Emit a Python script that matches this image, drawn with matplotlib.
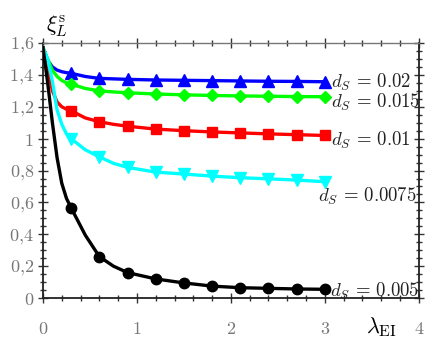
import numpy as np
import matplotlib
matplotlib.use("Agg")
import matplotlib.pyplot as plt
from matplotlib.ticker import MultipleLocator, FuncFormatter

plt.rcParams["mathtext.fontset"] = "cm"
plt.rcParams["font.family"] = "serif"

# marker positions (lambda_EI) and values
x_mark = [0.3, 0.6, 0.9, 1.2, 1.5, 1.8, 2.1, 2.4, 2.7, 3.0]
y_002 = [1.41, 1.378, 1.372, 1.368, 1.366, 1.364, 1.362, 1.360, 1.359, 1.357]
y_0015 = [1.342, 1.30, 1.288, 1.280, 1.275, 1.271, 1.268, 1.266, 1.264, 1.263]
y_001 = [1.175, 1.106, 1.078, 1.060, 1.050, 1.042, 1.036, 1.030, 1.025, 1.020]
y_00075 = [1.0, 0.886, 0.82, 0.79, 0.778, 0.765, 0.755, 0.748, 0.74, 0.73]
y_0005 = [0.565, 0.26, 0.16, 0.12, 0.095, 0.075, 0.065, 0.061, 0.057, 0.055]

# extra points near the start to follow the steep part of the curves
x_start = [0.0, 0.05, 0.1, 0.15, 0.2, 0.25]
s_002 = [1.57, 1.49, 1.45, 1.43, 1.42, 1.414]
s_0015 = [1.57, 1.50, 1.43, 1.39, 1.365, 1.35]
s_001 = [1.57, 1.45, 1.30, 1.23, 1.20, 1.185]
s_00075 = [1.57, 1.50, 1.36, 1.18, 1.09, 1.03]
s_0005 = [1.57, 1.35, 1.10, 0.88, 0.72, 0.625]

# mid points between the first markers
x_mid = [0.45, 0.75]
m_002 = [1.39, 1.375]
m_0015 = [1.315, 1.293]
m_001 = [1.13, 1.09]
m_00075 = [0.93, 0.845]
m_0005 = [0.395, 0.20]

labels = [r"$d_S\,=\,0.02$", r"$d_S\,=\,0.015$", r"$d_S\,=\,0.01$",
          r"$d_S\,=\,0.0075$", r"$d_S\,=\,0.005$"]
label_pos = [(3.06, 1.355), (3.06, 1.23), (3.06, 0.987), (2.93, 0.64), (3.05, 0.04)]

series = [
    (s_002, m_002, y_002, "#0000ff", "^", 8),
    (s_0015, m_0015, y_0015, "#00ff00", "D", 6),
    (s_001, m_001, y_001, "#ff0000", "s", 7),
    (s_00075, m_00075, y_00075, "#00ffff", "v", 8),
    (s_0005, m_0005, y_0005, "#000000", "o", 7.5),
]

fig = plt.figure(figsize=(4.36, 3.54), dpi=100)
ax = fig.add_axes([0.0986, 0.158, 0.862, 0.7205])

for (ys, ym, yk, c, mk, ms), lab, pos in zip(series, labels, label_pos):
    xl = x_start + [x_mark[0], x_mid[0], x_mark[1], x_mid[1]] + x_mark[2:]
    yl = ys + [yk[0], ym[0], yk[1], ym[1]] + yk[2:]
    ax.plot(xl, yl, color=c, lw=2.4, solid_joinstyle="round", zorder=3)
    ax.plot(x_mark, yk, ls="none", marker=mk, ms=ms, color=c, zorder=4)
    ax.text(pos[0], pos[1], lab, fontsize=13.5, color="#222222", va="center", ha="left")

ax.set_xlim(0, 4)
ax.set_ylim(0, 1.6)
ax.xaxis.set_major_locator(MultipleLocator(1))
ax.xaxis.set_minor_locator(MultipleLocator(0.2))
ax.yaxis.set_major_locator(MultipleLocator(0.2))
ax.yaxis.set_minor_locator(MultipleLocator(0.05))


def comma_fmt(v, pos):
    s = f"{v:.1f}".rstrip("0").rstrip(".")
    return "$" + s.replace(".", "{,}") + "$"


ax.xaxis.set_major_formatter(FuncFormatter(comma_fmt))
ax.yaxis.set_major_formatter(FuncFormatter(comma_fmt))

ax.tick_params(which="both", direction="inout", top=True, right=True, colors="#333333",
               labelcolor="#777777", labelsize=13, width=1.0)
ax.tick_params(which="major", length=7)
ax.tick_params(which="minor", length=4)
ax.tick_params(axis="x", pad=12)
ax.tick_params(axis="y", pad=3)
for sp in ax.spines.values():
    sp.set_linewidth(1.3)
    sp.set_color("#222222")
ax.spines["top"].set_color("#777777")
ax.spines["top"].set_linewidth(1.0)

fig.text(0.105, 0.925, r"$\xi_L^{\mathrm{s}}$", fontsize=16, ha="left", va="center")
fig.text(0.875, 0.075, r"$\lambda_{\mathrm{EI}}$", fontsize=16, ha="center", va="center")

fig.savefig("out.png", dpi=100)
